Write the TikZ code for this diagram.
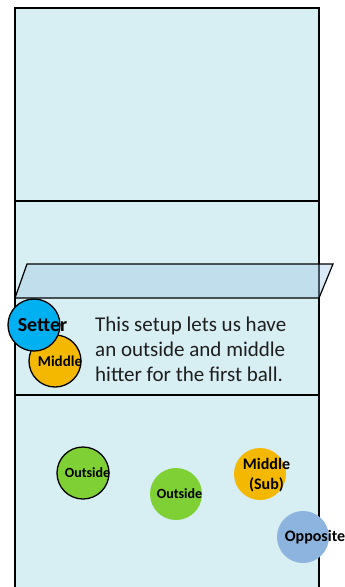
\documentclass[tikz,border=0pt]{standalone}
\usepackage{fontspec}
\setmainfont{Carlito}
\definecolor{court}{RGB}{215,238,243}
\definecolor{netc}{RGB}{160,200,230}
\definecolor{setterc}{RGB}{0,176,240}
\definecolor{middlec}{RGB}{245,184,0}
\definecolor{outsidec}{RGB}{126,208,52}
\definecolor{oppc}{RGB}{141,180,222}
\definecolor{txt}{RGB}{30,30,30}
\newcommand{\ctr}[2]{\makebox[0pt]{\hspace*{#1}#2}}
\tikzset{
  player/.style={circle, minimum size=52pt, inner sep=0pt, text=black},
  ringed/.style={draw=black, line width=1.3pt},
  courtline/.style={draw=black, line width=1.4pt},
}
\begin{document}
\begin{tikzpicture}[x=1pt,y=-1pt]
\useasboundingbox (0,0) rectangle (345,587);
\fill[court] (15,8) rectangle (319,590);
\draw[courtline] (15,590) -- (15,8) -- (319,8) -- (319,590);
\draw[courtline] (15,201) -- (319,201);
\draw[courtline] (15,395) -- (319,395);
\coordinate (n1) at (27,264);
\coordinate (n2) at (333,264);
\coordinate (n3) at (319,298);
\coordinate (n4) at (15,298);
\fill[netc, opacity=0.4] (n1) -- (n2) -- (n3) -- (n4) -- cycle;
\draw[black, line width=1.2pt, line join=miter] (n1) -- (n2) -- (n3) -- (n4) -- cycle;
\node[player, ringed, fill=middlec, font=\bfseries\fontsize{15}{16}\selectfont] (middle) at (55,361) {\ctr{10pt}{Middle}};
\node[player, ringed, fill=setterc, font=\bfseries\fontsize{20}{21}\selectfont] (setter) at (34,325) {\ctr{17pt}{Setter}};
\node[anchor=base west, align=left, text=txt, font=\fontsize{21}{25}\selectfont, inner sep=0pt] (note) at (95,381) {This setup lets us have\\an outside and middle\\hitter for the first ball.};
\node[player, ringed, fill=outsidec, font=\bfseries\fontsize{14}{15}\selectfont] (out1) at (83,473) {\ctr{9pt}{Outside}};
\node[player, fill=outsidec, font=\bfseries\fontsize{14}{15}\selectfont] (out2) at (176,494) {\ctr{7pt}{Outside}};
\node[player, fill=middlec] (msub) at (260,474) {};
\node[align=center, inner sep=0pt, text=black, font=\bfseries\fontsize{16}{20}\selectfont] (msubtxt) at ([xshift=6.5pt,yshift=-1pt]msub.center) {Middle\\(Sub)};
\node[player, fill=oppc, font=\bfseries\fontsize{16}{17}\selectfont] (opp) at (303,537) {\ctr{24pt}{Opposite}};
\end{tikzpicture}
\end{document}
